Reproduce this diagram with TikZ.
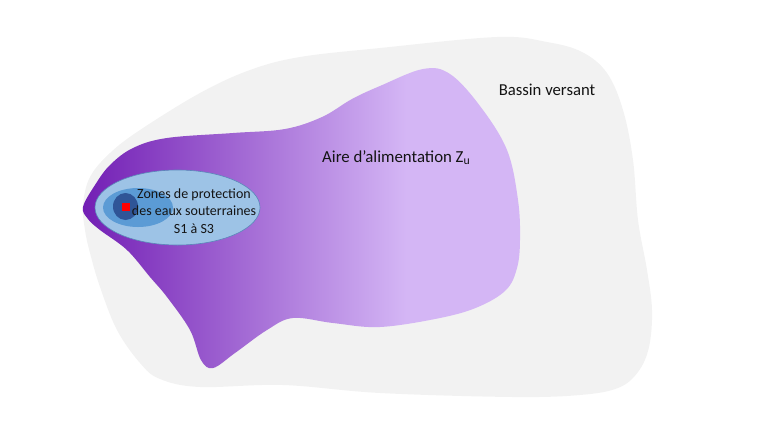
\documentclass[tikz,border=0pt]{standalone}
\usepackage{fontspec}
\setmainfont{Carlito}
\definecolor{bassin}{RGB}{242,242,242}
\definecolor{pdark}{RGB}{114,30,180}
\definecolor{plight}{RGB}{212,182,245}
\definecolor{blight}{RGB}{157,195,230}
\definecolor{bmid}{RGB}{91,155,213}
\definecolor{bdark}{RGB}{47,85,151}
\definecolor{bline}{RGB}{90,135,185}
\definecolor{txt}{RGB}{20,20,20}
\pgfdeclarehorizontalshading{aireshade}{100bp}{color(0bp)=(pdark); color(25bp)=(pdark); color(62bp)=(plight); color(100bp)=(plight)}
\tikzset{
  lbl/.style={text=txt, inner sep=0pt},
}
\begin{document}
\begin{tikzpicture}[x=1pt,y=-1pt]
\useasboundingbox (0,0) rectangle (760,440);
% Bassin versant
\fill[bassin] plot[smooth cycle, tension=0.6] coordinates {
 (83,205) (90,177) (110,153) (140,130) (200,93) (250,70) (300,57) (380,48)
 (497,37) (547,42) (582,52) (607,73) (623,110) (633,160) (638,220)
 (647,270) (652,310) (649,347) (638,372) (618,388) (580,395) (513,397)
 (380,393) (283,385) (200,387) (160,379) (140,363) (117,330) (100,287)
 (90,253) (85,230)};
% Aire d'alimentation
\path[shading=aireshade] plot[smooth cycle, tension=0.6] coordinates {
 (83,207) (95,185) (110,165) (133,148) (167,138) (233,133) (285,129)
 (322,117) (352,99) (380,86) (423,69) (450,74) (480,106) (507,150)
 (518,200) (520,240) (517,268) (506,290) (478,307) (440,318) (380,327)
 (333,323) (293,318) (267,330) (235,353) (213,368) (201,360) (190,330)
 (167,297) (150,277) (127,250) (100,230) (88,219)};
% Zones de protection
\filldraw[fill=blight, draw=bline, line width=0.6pt] (177.5,207.5) ellipse [x radius=82.5, y radius=37.5];
\fill[bmid] (138,207.5) ellipse [x radius=35, y radius=19.5];
\fill[bdark] (125.5,206.5) ellipse [x radius=12.5, y radius=13.5];
\fill[red] (122,203) rectangle (130,211);
% Texts
\node[lbl, anchor=base, font=\fontsize{16.7}{20}\selectfont] (bv) at (547,95) {Bassin versant};
\node[lbl, anchor=base west, font=\fontsize{16.8}{20}\selectfont] (aa) at (322,162) {Aire d’alimentation Z\textsubscript{u}};
\node[lbl, align=center, anchor=base, font=\fontsize{14}{17.5}\selectfont] (zp) at (194,233) {Zones de protection\\des eaux souterraines\\S1 à S3};
\end{tikzpicture}
\end{document}
